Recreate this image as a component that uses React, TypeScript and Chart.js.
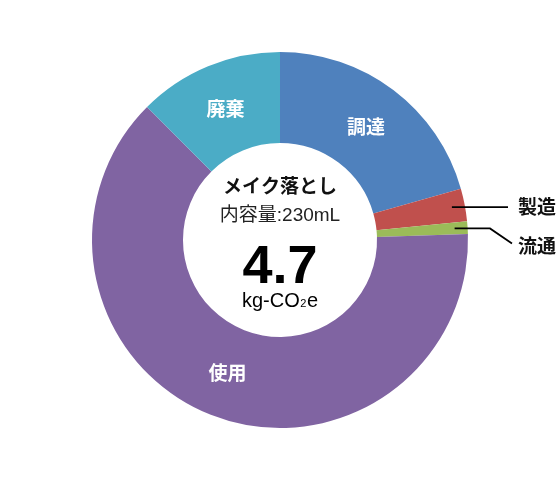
import React, { useEffect, useRef } from 'react';
import { Chart, ArcElement, DoughnutController, Plugin } from 'chart.js';

Chart.register(ArcElement, DoughnutController);

// life-cycle stages, clockwise from 12 o'clock
const categories = ['調達', '製造', '流通', '使用', '廃棄'];
const shares = [20.6, 2.8, 1.1, 63.0, 12.5];
const sliceColors = ['#4f81bd', '#c0504d', '#9bbb59', '#8064a2', '#4bacc6'];
// stages too thin to hold a label: labelled outside with a leader line
const calloutCategories = ['製造', '流通'];

const productName = 'メイク落とし';
const volumeText = '内容量:230mL';
const totalValue = '4.7';

const JP = '"Noto Sans CJK JP", sans-serif';
const LATIN = '"Liberation Sans", Arial, "Noto Sans CJK JP", sans-serif';

const sliceLabels: Plugin<'doughnut'> = {
  id: 'sliceLabels',
  afterDatasetsDraw(chart) {
    const ctx = chart.ctx;
    const meta = chart.getDatasetMeta(0);
    ctx.save();
    meta.data.forEach((el, i) => {
      const { x, y, startAngle, endAngle, outerRadius, innerRadius } = (el as ArcElement).getProps(
        ['x', 'y', 'startAngle', 'endAngle', 'outerRadius', 'innerRadius'],
        true
      );
      const mid = (startAngle + endAngle) / 2;
      const name = categories[i];
      const k = calloutCategories.indexOf(name);
      ctx.font = `bold 19px ${JP}`;
      ctx.textBaseline = 'middle';
      if (k < 0) {
        const r = (innerRadius + outerRadius) / 2;
        ctx.fillStyle = '#ffffff';
        ctx.textAlign = 'center';
        ctx.fillText(name, x + Math.cos(mid) * r, y + Math.sin(mid) * r);
        return;
      }
      const r = outerRadius - 13;
      const sx = x + Math.cos(mid) * r;
      const sy = y + Math.sin(mid) * r;
      const edge = x + outerRadius;
      ctx.strokeStyle = '#000000';
      ctx.lineWidth = 1.8;
      ctx.beginPath();
      ctx.moveTo(sx, sy);
      let ly = sy;
      if (k === 0) {
        ctx.lineTo(edge + 40, sy);
      } else {
        ctx.lineTo(edge + 22, sy);
        ctx.lineTo(edge + 44, sy + 15);
        ly = sy + 17;
      }
      ctx.stroke();
      ctx.fillStyle = '#111111';
      ctx.textAlign = 'left';
      ctx.fillText(name, edge + 50, ly);
    });
    ctx.restore();
  },
  afterDraw(chart) {
    const ctx = chart.ctx;
    const arc = chart.getDatasetMeta(0).data[0] as ArcElement;
    const { x, y } = arc.getProps(['x', 'y'], true);
    ctx.save();
    ctx.textAlign = 'center';
    ctx.fillStyle = '#111111';

    ctx.textBaseline = 'middle';
    ctx.font = `bold 19px ${JP}`;
    ctx.fillText(productName, x, y - 54);

    ctx.font = `19px ${LATIN}`;
    ctx.fillStyle = '#222222';
    ctx.fillText(volumeText, x, y - 24);

    ctx.fillStyle = '#000000';
    ctx.textBaseline = 'alphabetic';
    ctx.font = `bold 54px ${LATIN}`;
    ctx.fillText(totalValue, x, y + 43);

    // kg-CO2e with a subscript 2
    const big = `20px ${LATIN}`;
    const small = `11px ${LATIN}`;
    ctx.font = big;
    const w1 = ctx.measureText('kg-CO').width;
    const w3 = ctx.measureText('e').width;
    ctx.font = small;
    const w2 = ctx.measureText('2').width + 1;
    let cx = x - (w1 + w2 + w3) / 2;
    const base = y + 67;
    ctx.textAlign = 'left';
    ctx.font = big;
    ctx.fillText('kg-CO', cx, base);
    cx += w1 + 0.5;
    ctx.font = small;
    ctx.fillText('2', cx, base);
    cx += w2 - 0.5;
    ctx.font = big;
    ctx.fillText('e', cx, base);
    ctx.restore();
  },
};

const FootprintDonut: React.FC = () => {
  const canvasRef = useRef<HTMLCanvasElement>(null);
  const chartRef = useRef<Chart<'doughnut'> | null>(null);

  useEffect(() => {
    document.body.style.margin = '0';
    if (!canvasRef.current) return;
    if (chartRef.current) chartRef.current.destroy();

    chartRef.current = new Chart(canvasRef.current, {
      type: 'doughnut',
      data: {
        labels: categories,
        datasets: [
          {
            data: shares,
            backgroundColor: sliceColors,
            borderWidth: 0,
          },
        ],
      },
      options: {
        responsive: false,
        animation: false,
        radius: 188,
        cutout: '51.6%',
        layout: { padding: 0 },
        plugins: {
          legend: { display: false },
          tooltip: { enabled: false },
        },
      },
      plugins: [sliceLabels],
    });

    return () => {
      if (chartRef.current) {
        chartRef.current.destroy();
        chartRef.current = null;
      }
    };
  }, []);

  return (
    <div style={{ width: 560, height: 480, background: '#ffffff' }}>
      <canvas ref={canvasRef} width={560} height={480} />
    </div>
  );
};

export default function App() {
  return <FootprintDonut />;
}
